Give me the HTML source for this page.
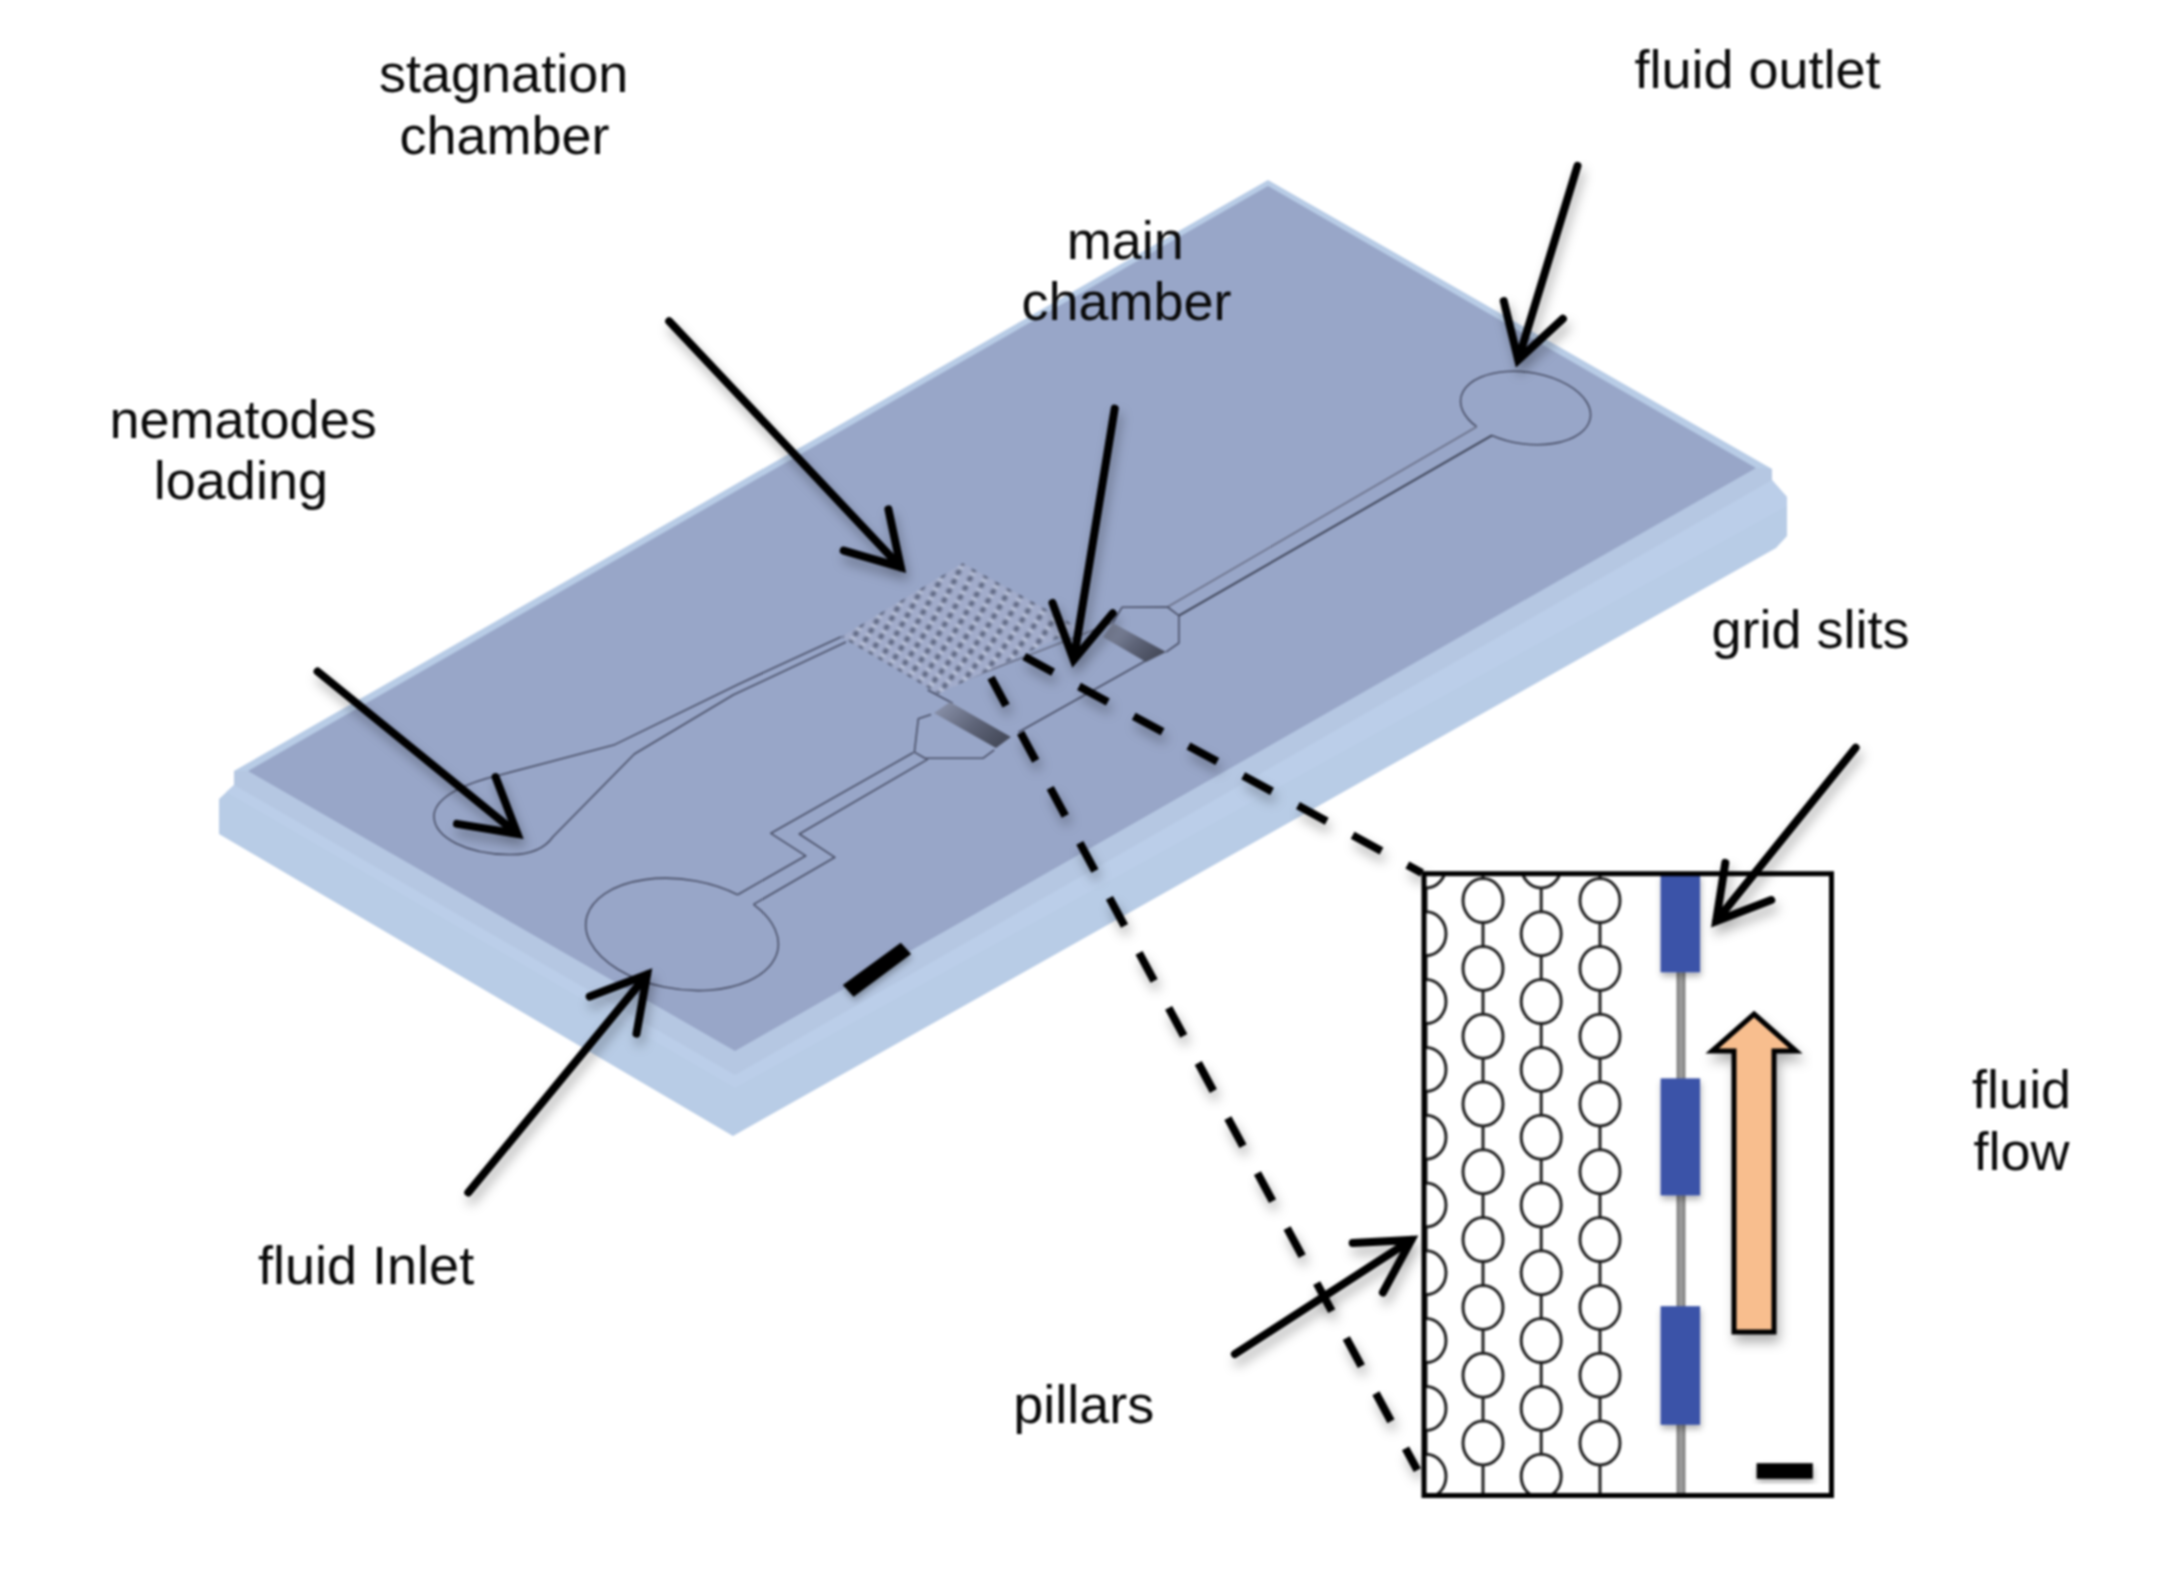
<!DOCTYPE html>
<html><head><meta charset="utf-8">
<style>
html,body{margin:0;padding:0;background:#fff;}
body{width:2164px;height:1581px;overflow:hidden;}
svg{display:block;filter:blur(0.8px);}
text{font-family:"Liberation Sans",sans-serif;font-size:54px;fill:#0a0a0a;}
</style></head><body>
<svg width="2164" height="1581" viewBox="0 0 2164 1581">
<defs>
<filter id="sh" x="-20%" y="-20%" width="140%" height="140%">
<feDropShadow dx="3" dy="8" stdDeviation="6" flood-color="#000" flood-opacity="0.3"/>
</filter>
<filter id="sh2" x="-30%" y="-30%" width="160%" height="160%"><feDropShadow dx="1" dy="4" stdDeviation="3" flood-color="#000" flood-opacity="0.3"/></filter>
<filter id="blur1" x="-5%" y="-5%" width="110%" height="110%"><feGaussianBlur stdDeviation="0.9"/></filter>
</defs>
<rect width="2164" height="1581" fill="#fff"/>
<!-- slab -->
<polygon points="1268,180 1772,469 1772,480 1787,497 1787,536 1776,548 733,1136 219,834 219,799 234,785 234,771" fill="#B8CCE6"/>
<polygon points="234,771 234,785 735,1075 1772,480 1772,469 1756,468 735,1051 248,771" fill="#B5C7E2"/>
<polygon points="234,785 735,1075 1772,480 1787,497 1787,506 735,1088 226,792" fill="#BCCFEA" opacity="0.7"/>
<polygon points="1268,186 1756,468 735,1051 248,771" fill="#98A6C8"/>




<!-- chip pattern -->
<defs>
<linearGradient id="bandg" x1="0" y1="0" x2="1" y2="0.6">
<stop offset="0" stop-color="#8f97b0"/><stop offset="0.6" stop-color="#5e6478"/><stop offset="1" stop-color="#474c5c"/>
</linearGradient>
<clipPath id="gridclip"><polygon points="962.8,562.9 1080,628 938,694 840.8,636.9"/></clipPath>
</defs>
<g fill="none" stroke="#4a5068" stroke-width="1.6" stroke-linejoin="round">
<path d="M1476.7,426.7 A65.5,35.8 8.5 1 1 1492,435.4"/>
<path d="M1476.7,426.7 L1167.5,607" stroke="#6a7088"/>
<path d="M1492,435.4 L1178.9,615.7" stroke="#3e4458" stroke-width="2"/>
<path d="M1112.9,622.5 L1122,607.3 L1167.5,607 L1178.9,615.7 L1178.9,643 L1166,652.1"/>
<path d="M934,692 L1112.9,622.5" stroke="#6a7088"/>
<path d="M1018.3,732.3 L1156,655"/>
<path d="M927.7,690 L952.7,703.3"/>
<path d="M931.1,714.4 L918.3,718.8 L914.4,752.1 L925,758.2 L983.2,758.2 L994.3,749.9"/>
<path d="M913.5,752.5 L770.9,833.3 L805.8,855.8 L737.6,894.7"/>
<path d="M928,759.1 L799.3,834 L834.9,857.3 L753.5,904.4"/>
<path d="M753.5,904.4 A97,55 8.4 1 1 737.6,894.7"/>
<path d="M840.8,636.9 L738,684.4 L613.7,745.1 L500,775 C470,782 436,795 434,815 C433,838 468,854 508.7,854.5 C530,855 545,848 553,836.7 L634.4,754 L733.5,694.8 L846,642" />
</g>
<polygon points="950,702 1010.9,737.1 996,748 934,713" fill="url(#bandg)"/>
<polygon points="1112.9,623 1166,652.1 1146,662 1103,637" fill="url(#bandg)"/>
<g clip-path="url(#gridclip)">
<polygon points="962.8,562.9 1080,628 938,694 840.8,636.9" fill="#a2accb"/>
<g filter="url(#blur1)"><g fill="#c2cbe2"><ellipse cx="960.6" cy="567.6" rx="3.2" ry="2.2" transform="rotate(-35 960.6 567.6)"/><ellipse cx="972.3" cy="574.1" rx="3.2" ry="2.2" transform="rotate(-35 972.3 574.1)"/><ellipse cx="983.9" cy="580.6" rx="3.2" ry="2.2" transform="rotate(-35 983.9 580.6)"/><ellipse cx="995.5" cy="587.0" rx="3.2" ry="2.2" transform="rotate(-35 995.5 587.0)"/><ellipse cx="1007.2" cy="593.5" rx="3.2" ry="2.2" transform="rotate(-35 1007.2 593.5)"/><ellipse cx="1018.8" cy="600.0" rx="3.2" ry="2.2" transform="rotate(-35 1018.8 600.0)"/><ellipse cx="1030.4" cy="606.5" rx="3.2" ry="2.2" transform="rotate(-35 1030.4 606.5)"/><ellipse cx="1042.1" cy="612.9" rx="3.2" ry="2.2" transform="rotate(-35 1042.1 612.9)"/><ellipse cx="1053.7" cy="619.4" rx="3.2" ry="2.2" transform="rotate(-35 1053.7 619.4)"/><ellipse cx="1065.4" cy="625.9" rx="3.2" ry="2.2" transform="rotate(-35 1065.4 625.9)"/><ellipse cx="1077.0" cy="632.4" rx="3.2" ry="2.2" transform="rotate(-35 1077.0 632.4)"/><ellipse cx="956.2" cy="577.0" rx="3.2" ry="2.2" transform="rotate(-35 956.2 577.0)"/><ellipse cx="967.6" cy="583.4" rx="3.2" ry="2.2" transform="rotate(-35 967.6 583.4)"/><ellipse cx="979.1" cy="589.8" rx="3.2" ry="2.2" transform="rotate(-35 979.1 589.8)"/><ellipse cx="990.6" cy="596.2" rx="3.2" ry="2.2" transform="rotate(-35 990.6 596.2)"/><ellipse cx="1002.0" cy="602.6" rx="3.2" ry="2.2" transform="rotate(-35 1002.0 602.6)"/><ellipse cx="1013.5" cy="609.0" rx="3.2" ry="2.2" transform="rotate(-35 1013.5 609.0)"/><ellipse cx="1025.0" cy="615.4" rx="3.2" ry="2.2" transform="rotate(-35 1025.0 615.4)"/><ellipse cx="1036.4" cy="621.8" rx="3.2" ry="2.2" transform="rotate(-35 1036.4 621.8)"/><ellipse cx="1047.9" cy="628.2" rx="3.2" ry="2.2" transform="rotate(-35 1047.9 628.2)"/><ellipse cx="1059.4" cy="634.6" rx="3.2" ry="2.2" transform="rotate(-35 1059.4 634.6)"/><ellipse cx="1070.9" cy="641.1" rx="3.2" ry="2.2" transform="rotate(-35 1070.9 641.1)"/><ellipse cx="940.2" cy="579.9" rx="3.2" ry="2.2" transform="rotate(-35 940.2 579.9)"/><ellipse cx="951.5" cy="586.2" rx="3.2" ry="2.2" transform="rotate(-35 951.5 586.2)"/><ellipse cx="962.8" cy="592.6" rx="3.2" ry="2.2" transform="rotate(-35 962.8 592.6)"/><ellipse cx="974.1" cy="598.9" rx="3.2" ry="2.2" transform="rotate(-35 974.1 598.9)"/><ellipse cx="985.4" cy="605.3" rx="3.2" ry="2.2" transform="rotate(-35 985.4 605.3)"/><ellipse cx="996.7" cy="611.6" rx="3.2" ry="2.2" transform="rotate(-35 996.7 611.6)"/><ellipse cx="1008.0" cy="618.0" rx="3.2" ry="2.2" transform="rotate(-35 1008.0 618.0)"/><ellipse cx="1019.3" cy="624.3" rx="3.2" ry="2.2" transform="rotate(-35 1019.3 624.3)"/><ellipse cx="1030.6" cy="630.6" rx="3.2" ry="2.2" transform="rotate(-35 1030.6 630.6)"/><ellipse cx="1041.9" cy="637.0" rx="3.2" ry="2.2" transform="rotate(-35 1041.9 637.0)"/><ellipse cx="1053.2" cy="643.3" rx="3.2" ry="2.2" transform="rotate(-35 1053.2 643.3)"/><ellipse cx="935.6" cy="589.2" rx="3.2" ry="2.2" transform="rotate(-35 935.6 589.2)"/><ellipse cx="946.7" cy="595.5" rx="3.2" ry="2.2" transform="rotate(-35 946.7 595.5)"/><ellipse cx="957.8" cy="601.7" rx="3.2" ry="2.2" transform="rotate(-35 957.8 601.7)"/><ellipse cx="969.0" cy="608.0" rx="3.2" ry="2.2" transform="rotate(-35 969.0 608.0)"/><ellipse cx="980.1" cy="614.3" rx="3.2" ry="2.2" transform="rotate(-35 980.1 614.3)"/><ellipse cx="991.3" cy="620.6" rx="3.2" ry="2.2" transform="rotate(-35 991.3 620.6)"/><ellipse cx="1002.4" cy="626.9" rx="3.2" ry="2.2" transform="rotate(-35 1002.4 626.9)"/><ellipse cx="1013.5" cy="633.1" rx="3.2" ry="2.2" transform="rotate(-35 1013.5 633.1)"/><ellipse cx="1024.7" cy="639.4" rx="3.2" ry="2.2" transform="rotate(-35 1024.7 639.4)"/><ellipse cx="1035.8" cy="645.7" rx="3.2" ry="2.2" transform="rotate(-35 1035.8 645.7)"/><ellipse cx="1046.9" cy="652.0" rx="3.2" ry="2.2" transform="rotate(-35 1046.9 652.0)"/><ellipse cx="919.8" cy="592.2" rx="3.2" ry="2.2" transform="rotate(-35 919.8 592.2)"/><ellipse cx="930.8" cy="598.4" rx="3.2" ry="2.2" transform="rotate(-35 930.8 598.4)"/><ellipse cx="941.7" cy="604.6" rx="3.2" ry="2.2" transform="rotate(-35 941.7 604.6)"/><ellipse cx="952.7" cy="610.8" rx="3.2" ry="2.2" transform="rotate(-35 952.7 610.8)"/><ellipse cx="963.7" cy="617.0" rx="3.2" ry="2.2" transform="rotate(-35 963.7 617.0)"/><ellipse cx="974.6" cy="623.3" rx="3.2" ry="2.2" transform="rotate(-35 974.6 623.3)"/><ellipse cx="985.6" cy="629.5" rx="3.2" ry="2.2" transform="rotate(-35 985.6 629.5)"/><ellipse cx="996.6" cy="635.7" rx="3.2" ry="2.2" transform="rotate(-35 996.6 635.7)"/><ellipse cx="1007.6" cy="641.9" rx="3.2" ry="2.2" transform="rotate(-35 1007.6 641.9)"/><ellipse cx="1018.5" cy="648.1" rx="3.2" ry="2.2" transform="rotate(-35 1018.5 648.1)"/><ellipse cx="1029.5" cy="654.3" rx="3.2" ry="2.2" transform="rotate(-35 1029.5 654.3)"/><ellipse cx="915.0" cy="601.4" rx="3.2" ry="2.2" transform="rotate(-35 915.0 601.4)"/><ellipse cx="925.8" cy="607.6" rx="3.2" ry="2.2" transform="rotate(-35 925.8 607.6)"/><ellipse cx="936.6" cy="613.7" rx="3.2" ry="2.2" transform="rotate(-35 936.6 613.7)"/><ellipse cx="947.4" cy="619.9" rx="3.2" ry="2.2" transform="rotate(-35 947.4 619.9)"/><ellipse cx="958.2" cy="626.0" rx="3.2" ry="2.2" transform="rotate(-35 958.2 626.0)"/><ellipse cx="969.0" cy="632.1" rx="3.2" ry="2.2" transform="rotate(-35 969.0 632.1)"/><ellipse cx="979.8" cy="638.3" rx="3.2" ry="2.2" transform="rotate(-35 979.8 638.3)"/><ellipse cx="990.6" cy="644.4" rx="3.2" ry="2.2" transform="rotate(-35 990.6 644.4)"/><ellipse cx="1001.4" cy="650.6" rx="3.2" ry="2.2" transform="rotate(-35 1001.4 650.6)"/><ellipse cx="1012.2" cy="656.7" rx="3.2" ry="2.2" transform="rotate(-35 1012.2 656.7)"/><ellipse cx="1023.0" cy="662.9" rx="3.2" ry="2.2" transform="rotate(-35 1023.0 662.9)"/><ellipse cx="899.4" cy="604.5" rx="3.2" ry="2.2" transform="rotate(-35 899.4 604.5)"/><ellipse cx="910.0" cy="610.6" rx="3.2" ry="2.2" transform="rotate(-35 910.0 610.6)"/><ellipse cx="920.6" cy="616.7" rx="3.2" ry="2.2" transform="rotate(-35 920.6 616.7)"/><ellipse cx="931.3" cy="622.7" rx="3.2" ry="2.2" transform="rotate(-35 931.3 622.7)"/><ellipse cx="941.9" cy="628.8" rx="3.2" ry="2.2" transform="rotate(-35 941.9 628.8)"/><ellipse cx="952.6" cy="634.9" rx="3.2" ry="2.2" transform="rotate(-35 952.6 634.9)"/><ellipse cx="963.2" cy="641.0" rx="3.2" ry="2.2" transform="rotate(-35 963.2 641.0)"/><ellipse cx="973.8" cy="647.0" rx="3.2" ry="2.2" transform="rotate(-35 973.8 647.0)"/><ellipse cx="984.5" cy="653.1" rx="3.2" ry="2.2" transform="rotate(-35 984.5 653.1)"/><ellipse cx="995.1" cy="659.2" rx="3.2" ry="2.2" transform="rotate(-35 995.1 659.2)"/><ellipse cx="1005.7" cy="665.3" rx="3.2" ry="2.2" transform="rotate(-35 1005.7 665.3)"/><ellipse cx="894.4" cy="613.7" rx="3.2" ry="2.2" transform="rotate(-35 894.4 613.7)"/><ellipse cx="904.9" cy="619.7" rx="3.2" ry="2.2" transform="rotate(-35 904.9 619.7)"/><ellipse cx="915.3" cy="625.7" rx="3.2" ry="2.2" transform="rotate(-35 915.3 625.7)"/><ellipse cx="925.8" cy="631.7" rx="3.2" ry="2.2" transform="rotate(-35 925.8 631.7)"/><ellipse cx="936.3" cy="637.7" rx="3.2" ry="2.2" transform="rotate(-35 936.3 637.7)"/><ellipse cx="946.8" cy="643.7" rx="3.2" ry="2.2" transform="rotate(-35 946.8 643.7)"/><ellipse cx="957.2" cy="649.7" rx="3.2" ry="2.2" transform="rotate(-35 957.2 649.7)"/><ellipse cx="967.7" cy="655.7" rx="3.2" ry="2.2" transform="rotate(-35 967.7 655.7)"/><ellipse cx="978.2" cy="661.7" rx="3.2" ry="2.2" transform="rotate(-35 978.2 661.7)"/><ellipse cx="988.6" cy="667.7" rx="3.2" ry="2.2" transform="rotate(-35 988.6 667.7)"/><ellipse cx="999.1" cy="673.8" rx="3.2" ry="2.2" transform="rotate(-35 999.1 673.8)"/><ellipse cx="879.0" cy="616.8" rx="3.2" ry="2.2" transform="rotate(-35 879.0 616.8)"/><ellipse cx="889.3" cy="622.7" rx="3.2" ry="2.2" transform="rotate(-35 889.3 622.7)"/><ellipse cx="899.6" cy="628.7" rx="3.2" ry="2.2" transform="rotate(-35 899.6 628.7)"/><ellipse cx="909.9" cy="634.6" rx="3.2" ry="2.2" transform="rotate(-35 909.9 634.6)"/><ellipse cx="920.2" cy="640.6" rx="3.2" ry="2.2" transform="rotate(-35 920.2 640.6)"/><ellipse cx="930.5" cy="646.5" rx="3.2" ry="2.2" transform="rotate(-35 930.5 646.5)"/><ellipse cx="940.8" cy="652.5" rx="3.2" ry="2.2" transform="rotate(-35 940.8 652.5)"/><ellipse cx="951.1" cy="658.4" rx="3.2" ry="2.2" transform="rotate(-35 951.1 658.4)"/><ellipse cx="961.4" cy="664.3" rx="3.2" ry="2.2" transform="rotate(-35 961.4 664.3)"/><ellipse cx="971.7" cy="670.3" rx="3.2" ry="2.2" transform="rotate(-35 971.7 670.3)"/><ellipse cx="982.0" cy="676.2" rx="3.2" ry="2.2" transform="rotate(-35 982.0 676.2)"/><ellipse cx="873.8" cy="625.9" rx="3.2" ry="2.2" transform="rotate(-35 873.8 625.9)"/><ellipse cx="884.0" cy="631.8" rx="3.2" ry="2.2" transform="rotate(-35 884.0 631.8)"/><ellipse cx="894.1" cy="637.6" rx="3.2" ry="2.2" transform="rotate(-35 894.1 637.6)"/><ellipse cx="904.2" cy="643.5" rx="3.2" ry="2.2" transform="rotate(-35 904.2 643.5)"/><ellipse cx="914.4" cy="649.4" rx="3.2" ry="2.2" transform="rotate(-35 914.4 649.4)"/><ellipse cx="924.5" cy="655.3" rx="3.2" ry="2.2" transform="rotate(-35 924.5 655.3)"/><ellipse cx="934.6" cy="661.2" rx="3.2" ry="2.2" transform="rotate(-35 934.6 661.2)"/><ellipse cx="944.8" cy="667.0" rx="3.2" ry="2.2" transform="rotate(-35 944.8 667.0)"/><ellipse cx="954.9" cy="672.9" rx="3.2" ry="2.2" transform="rotate(-35 954.9 672.9)"/><ellipse cx="965.0" cy="678.8" rx="3.2" ry="2.2" transform="rotate(-35 965.0 678.8)"/><ellipse cx="975.2" cy="684.7" rx="3.2" ry="2.2" transform="rotate(-35 975.2 684.7)"/><ellipse cx="858.5" cy="629.1" rx="3.2" ry="2.2" transform="rotate(-35 858.5 629.1)"/><ellipse cx="868.5" cy="634.9" rx="3.2" ry="2.2" transform="rotate(-35 868.5 634.9)"/><ellipse cx="878.5" cy="640.7" rx="3.2" ry="2.2" transform="rotate(-35 878.5 640.7)"/><ellipse cx="888.5" cy="646.5" rx="3.2" ry="2.2" transform="rotate(-35 888.5 646.5)"/><ellipse cx="898.4" cy="652.3" rx="3.2" ry="2.2" transform="rotate(-35 898.4 652.3)"/><ellipse cx="908.4" cy="658.2" rx="3.2" ry="2.2" transform="rotate(-35 908.4 658.2)"/><ellipse cx="918.4" cy="664.0" rx="3.2" ry="2.2" transform="rotate(-35 918.4 664.0)"/><ellipse cx="928.3" cy="669.8" rx="3.2" ry="2.2" transform="rotate(-35 928.3 669.8)"/><ellipse cx="938.3" cy="675.6" rx="3.2" ry="2.2" transform="rotate(-35 938.3 675.6)"/><ellipse cx="948.3" cy="681.4" rx="3.2" ry="2.2" transform="rotate(-35 948.3 681.4)"/><ellipse cx="958.2" cy="687.2" rx="3.2" ry="2.2" transform="rotate(-35 958.2 687.2)"/><ellipse cx="853.2" cy="638.1" rx="3.2" ry="2.2" transform="rotate(-35 853.2 638.1)"/><ellipse cx="863.0" cy="643.9" rx="3.2" ry="2.2" transform="rotate(-35 863.0 643.9)"/><ellipse cx="872.8" cy="649.6" rx="3.2" ry="2.2" transform="rotate(-35 872.8 649.6)"/><ellipse cx="882.6" cy="655.4" rx="3.2" ry="2.2" transform="rotate(-35 882.6 655.4)"/><ellipse cx="892.4" cy="661.1" rx="3.2" ry="2.2" transform="rotate(-35 892.4 661.1)"/><ellipse cx="902.3" cy="666.8" rx="3.2" ry="2.2" transform="rotate(-35 902.3 666.8)"/><ellipse cx="912.1" cy="672.6" rx="3.2" ry="2.2" transform="rotate(-35 912.1 672.6)"/><ellipse cx="921.9" cy="678.3" rx="3.2" ry="2.2" transform="rotate(-35 921.9 678.3)"/><ellipse cx="931.7" cy="684.1" rx="3.2" ry="2.2" transform="rotate(-35 931.7 684.1)"/><ellipse cx="941.5" cy="689.8" rx="3.2" ry="2.2" transform="rotate(-35 941.5 689.8)"/><ellipse cx="951.3" cy="695.6" rx="3.2" ry="2.2" transform="rotate(-35 951.3 695.6)"/><ellipse cx="838.1" cy="641.4" rx="3.2" ry="2.2" transform="rotate(-35 838.1 641.4)"/><ellipse cx="847.8" cy="647.1" rx="3.2" ry="2.2" transform="rotate(-35 847.8 647.1)"/><ellipse cx="857.4" cy="652.8" rx="3.2" ry="2.2" transform="rotate(-35 857.4 652.8)"/><ellipse cx="867.0" cy="658.4" rx="3.2" ry="2.2" transform="rotate(-35 867.0 658.4)"/><ellipse cx="876.7" cy="664.1" rx="3.2" ry="2.2" transform="rotate(-35 876.7 664.1)"/><ellipse cx="886.3" cy="669.8" rx="3.2" ry="2.2" transform="rotate(-35 886.3 669.8)"/><ellipse cx="895.9" cy="675.5" rx="3.2" ry="2.2" transform="rotate(-35 895.9 675.5)"/><ellipse cx="905.6" cy="681.1" rx="3.2" ry="2.2" transform="rotate(-35 905.6 681.1)"/><ellipse cx="915.2" cy="686.8" rx="3.2" ry="2.2" transform="rotate(-35 915.2 686.8)"/><ellipse cx="924.9" cy="692.5" rx="3.2" ry="2.2" transform="rotate(-35 924.9 692.5)"/><ellipse cx="934.5" cy="698.2" rx="3.2" ry="2.2" transform="rotate(-35 934.5 698.2)"/></g><g fill="#5c6580"><ellipse cx="962.8" cy="562.9" rx="2.6" ry="3.6" transform="rotate(30 962.8 562.9)"/><ellipse cx="974.5" cy="569.4" rx="2.6" ry="3.6" transform="rotate(30 974.5 569.4)"/><ellipse cx="986.2" cy="575.9" rx="2.6" ry="3.6" transform="rotate(30 986.2 575.9)"/><ellipse cx="998.0" cy="582.4" rx="2.6" ry="3.6" transform="rotate(30 998.0 582.4)"/><ellipse cx="1009.7" cy="588.9" rx="2.6" ry="3.6" transform="rotate(30 1009.7 588.9)"/><ellipse cx="1021.4" cy="595.5" rx="2.6" ry="3.6" transform="rotate(30 1021.4 595.5)"/><ellipse cx="1033.1" cy="602.0" rx="2.6" ry="3.6" transform="rotate(30 1033.1 602.0)"/><ellipse cx="1044.8" cy="608.5" rx="2.6" ry="3.6" transform="rotate(30 1044.8 608.5)"/><ellipse cx="1056.6" cy="615.0" rx="2.6" ry="3.6" transform="rotate(30 1056.6 615.0)"/><ellipse cx="1068.3" cy="621.5" rx="2.6" ry="3.6" transform="rotate(30 1068.3 621.5)"/><ellipse cx="1080.0" cy="628.0" rx="2.6" ry="3.6" transform="rotate(30 1080.0 628.0)"/><ellipse cx="958.4" cy="572.3" rx="2.6" ry="3.6" transform="rotate(30 958.4 572.3)"/><ellipse cx="970.0" cy="578.7" rx="2.6" ry="3.6" transform="rotate(30 970.0 578.7)"/><ellipse cx="981.5" cy="585.2" rx="2.6" ry="3.6" transform="rotate(30 981.5 585.2)"/><ellipse cx="993.1" cy="591.6" rx="2.6" ry="3.6" transform="rotate(30 993.1 591.6)"/><ellipse cx="1004.6" cy="598.1" rx="2.6" ry="3.6" transform="rotate(30 1004.6 598.1)"/><ellipse cx="1016.2" cy="604.5" rx="2.6" ry="3.6" transform="rotate(30 1016.2 604.5)"/><ellipse cx="1027.7" cy="610.9" rx="2.6" ry="3.6" transform="rotate(30 1027.7 610.9)"/><ellipse cx="1039.3" cy="617.4" rx="2.6" ry="3.6" transform="rotate(30 1039.3 617.4)"/><ellipse cx="1050.8" cy="623.8" rx="2.6" ry="3.6" transform="rotate(30 1050.8 623.8)"/><ellipse cx="1062.4" cy="630.3" rx="2.6" ry="3.6" transform="rotate(30 1062.4 630.3)"/><ellipse cx="1073.9" cy="636.7" rx="2.6" ry="3.6" transform="rotate(30 1073.9 636.7)"/><ellipse cx="942.5" cy="575.2" rx="2.6" ry="3.6" transform="rotate(30 942.5 575.2)"/><ellipse cx="953.9" cy="581.6" rx="2.6" ry="3.6" transform="rotate(30 953.9 581.6)"/><ellipse cx="965.2" cy="588.0" rx="2.6" ry="3.6" transform="rotate(30 965.2 588.0)"/><ellipse cx="976.6" cy="594.4" rx="2.6" ry="3.6" transform="rotate(30 976.6 594.4)"/><ellipse cx="988.0" cy="600.7" rx="2.6" ry="3.6" transform="rotate(30 988.0 600.7)"/><ellipse cx="999.4" cy="607.1" rx="2.6" ry="3.6" transform="rotate(30 999.4 607.1)"/><ellipse cx="1010.8" cy="613.5" rx="2.6" ry="3.6" transform="rotate(30 1010.8 613.5)"/><ellipse cx="1022.2" cy="619.9" rx="2.6" ry="3.6" transform="rotate(30 1022.2 619.9)"/><ellipse cx="1033.6" cy="626.2" rx="2.6" ry="3.6" transform="rotate(30 1033.6 626.2)"/><ellipse cx="1044.9" cy="632.6" rx="2.6" ry="3.6" transform="rotate(30 1044.9 632.6)"/><ellipse cx="1056.3" cy="639.0" rx="2.6" ry="3.6" transform="rotate(30 1056.3 639.0)"/><ellipse cx="937.9" cy="584.6" rx="2.6" ry="3.6" transform="rotate(30 937.9 584.6)"/><ellipse cx="949.1" cy="590.9" rx="2.6" ry="3.6" transform="rotate(30 949.1 590.9)"/><ellipse cx="960.3" cy="597.2" rx="2.6" ry="3.6" transform="rotate(30 960.3 597.2)"/><ellipse cx="971.6" cy="603.5" rx="2.6" ry="3.6" transform="rotate(30 971.6 603.5)"/><ellipse cx="982.8" cy="609.8" rx="2.6" ry="3.6" transform="rotate(30 982.8 609.8)"/><ellipse cx="994.0" cy="616.1" rx="2.6" ry="3.6" transform="rotate(30 994.0 616.1)"/><ellipse cx="1005.2" cy="622.4" rx="2.6" ry="3.6" transform="rotate(30 1005.2 622.4)"/><ellipse cx="1016.4" cy="628.7" rx="2.6" ry="3.6" transform="rotate(30 1016.4 628.7)"/><ellipse cx="1027.7" cy="635.0" rx="2.6" ry="3.6" transform="rotate(30 1027.7 635.0)"/><ellipse cx="1038.9" cy="641.3" rx="2.6" ry="3.6" transform="rotate(30 1038.9 641.3)"/><ellipse cx="1050.1" cy="647.7" rx="2.6" ry="3.6" transform="rotate(30 1050.1 647.7)"/><ellipse cx="922.1" cy="587.6" rx="2.6" ry="3.6" transform="rotate(30 922.1 587.6)"/><ellipse cx="933.2" cy="593.8" rx="2.6" ry="3.6" transform="rotate(30 933.2 593.8)"/><ellipse cx="944.2" cy="600.1" rx="2.6" ry="3.6" transform="rotate(30 944.2 600.1)"/><ellipse cx="955.3" cy="606.3" rx="2.6" ry="3.6" transform="rotate(30 955.3 606.3)"/><ellipse cx="966.3" cy="612.5" rx="2.6" ry="3.6" transform="rotate(30 966.3 612.5)"/><ellipse cx="977.4" cy="618.8" rx="2.6" ry="3.6" transform="rotate(30 977.4 618.8)"/><ellipse cx="988.5" cy="625.0" rx="2.6" ry="3.6" transform="rotate(30 988.5 625.0)"/><ellipse cx="999.5" cy="631.3" rx="2.6" ry="3.6" transform="rotate(30 999.5 631.3)"/><ellipse cx="1010.6" cy="637.5" rx="2.6" ry="3.6" transform="rotate(30 1010.6 637.5)"/><ellipse cx="1021.6" cy="643.8" rx="2.6" ry="3.6" transform="rotate(30 1021.6 643.8)"/><ellipse cx="1032.7" cy="650.0" rx="2.6" ry="3.6" transform="rotate(30 1032.7 650.0)"/><ellipse cx="917.4" cy="596.8" rx="2.6" ry="3.6" transform="rotate(30 917.4 596.8)"/><ellipse cx="928.3" cy="603.0" rx="2.6" ry="3.6" transform="rotate(30 928.3 603.0)"/><ellipse cx="939.2" cy="609.2" rx="2.6" ry="3.6" transform="rotate(30 939.2 609.2)"/><ellipse cx="950.1" cy="615.4" rx="2.6" ry="3.6" transform="rotate(30 950.1 615.4)"/><ellipse cx="961.0" cy="621.5" rx="2.6" ry="3.6" transform="rotate(30 961.0 621.5)"/><ellipse cx="971.8" cy="627.7" rx="2.6" ry="3.6" transform="rotate(30 971.8 627.7)"/><ellipse cx="982.7" cy="633.9" rx="2.6" ry="3.6" transform="rotate(30 982.7 633.9)"/><ellipse cx="993.6" cy="640.1" rx="2.6" ry="3.6" transform="rotate(30 993.6 640.1)"/><ellipse cx="1004.5" cy="646.2" rx="2.6" ry="3.6" transform="rotate(30 1004.5 646.2)"/><ellipse cx="1015.4" cy="652.4" rx="2.6" ry="3.6" transform="rotate(30 1015.4 652.4)"/><ellipse cx="1026.3" cy="658.6" rx="2.6" ry="3.6" transform="rotate(30 1026.3 658.6)"/><ellipse cx="901.8" cy="599.9" rx="2.6" ry="3.6" transform="rotate(30 901.8 599.9)"/><ellipse cx="912.5" cy="606.0" rx="2.6" ry="3.6" transform="rotate(30 912.5 606.0)"/><ellipse cx="923.2" cy="612.1" rx="2.6" ry="3.6" transform="rotate(30 923.2 612.1)"/><ellipse cx="934.0" cy="618.2" rx="2.6" ry="3.6" transform="rotate(30 934.0 618.2)"/><ellipse cx="944.7" cy="624.3" rx="2.6" ry="3.6" transform="rotate(30 944.7 624.3)"/><ellipse cx="955.4" cy="630.5" rx="2.6" ry="3.6" transform="rotate(30 955.4 630.5)"/><ellipse cx="966.1" cy="636.6" rx="2.6" ry="3.6" transform="rotate(30 966.1 636.6)"/><ellipse cx="976.8" cy="642.7" rx="2.6" ry="3.6" transform="rotate(30 976.8 642.7)"/><ellipse cx="987.6" cy="648.8" rx="2.6" ry="3.6" transform="rotate(30 987.6 648.8)"/><ellipse cx="998.3" cy="654.9" rx="2.6" ry="3.6" transform="rotate(30 998.3 654.9)"/><ellipse cx="1009.0" cy="661.0" rx="2.6" ry="3.6" transform="rotate(30 1009.0 661.0)"/><ellipse cx="896.9" cy="609.1" rx="2.6" ry="3.6" transform="rotate(30 896.9 609.1)"/><ellipse cx="907.5" cy="615.1" rx="2.6" ry="3.6" transform="rotate(30 907.5 615.1)"/><ellipse cx="918.0" cy="621.2" rx="2.6" ry="3.6" transform="rotate(30 918.0 621.2)"/><ellipse cx="928.6" cy="627.2" rx="2.6" ry="3.6" transform="rotate(30 928.6 627.2)"/><ellipse cx="939.1" cy="633.3" rx="2.6" ry="3.6" transform="rotate(30 939.1 633.3)"/><ellipse cx="949.7" cy="639.3" rx="2.6" ry="3.6" transform="rotate(30 949.7 639.3)"/><ellipse cx="960.2" cy="645.3" rx="2.6" ry="3.6" transform="rotate(30 960.2 645.3)"/><ellipse cx="970.8" cy="651.4" rx="2.6" ry="3.6" transform="rotate(30 970.8 651.4)"/><ellipse cx="981.3" cy="657.4" rx="2.6" ry="3.6" transform="rotate(30 981.3 657.4)"/><ellipse cx="991.9" cy="663.5" rx="2.6" ry="3.6" transform="rotate(30 991.9 663.5)"/><ellipse cx="1002.4" cy="669.5" rx="2.6" ry="3.6" transform="rotate(30 1002.4 669.5)"/><ellipse cx="881.5" cy="612.2" rx="2.6" ry="3.6" transform="rotate(30 881.5 612.2)"/><ellipse cx="891.9" cy="618.2" rx="2.6" ry="3.6" transform="rotate(30 891.9 618.2)"/><ellipse cx="902.2" cy="624.2" rx="2.6" ry="3.6" transform="rotate(30 902.2 624.2)"/><ellipse cx="912.6" cy="630.2" rx="2.6" ry="3.6" transform="rotate(30 912.6 630.2)"/><ellipse cx="923.0" cy="636.1" rx="2.6" ry="3.6" transform="rotate(30 923.0 636.1)"/><ellipse cx="933.4" cy="642.1" rx="2.6" ry="3.6" transform="rotate(30 933.4 642.1)"/><ellipse cx="943.8" cy="648.1" rx="2.6" ry="3.6" transform="rotate(30 943.8 648.1)"/><ellipse cx="954.2" cy="654.1" rx="2.6" ry="3.6" transform="rotate(30 954.2 654.1)"/><ellipse cx="964.6" cy="660.0" rx="2.6" ry="3.6" transform="rotate(30 964.6 660.0)"/><ellipse cx="974.9" cy="666.0" rx="2.6" ry="3.6" transform="rotate(30 974.9 666.0)"/><ellipse cx="985.3" cy="672.0" rx="2.6" ry="3.6" transform="rotate(30 985.3 672.0)"/><ellipse cx="876.4" cy="621.4" rx="2.6" ry="3.6" transform="rotate(30 876.4 621.4)"/><ellipse cx="886.6" cy="627.3" rx="2.6" ry="3.6" transform="rotate(30 886.6 627.3)"/><ellipse cx="896.8" cy="633.2" rx="2.6" ry="3.6" transform="rotate(30 896.8 633.2)"/><ellipse cx="907.1" cy="639.1" rx="2.6" ry="3.6" transform="rotate(30 907.1 639.1)"/><ellipse cx="917.3" cy="645.0" rx="2.6" ry="3.6" transform="rotate(30 917.3 645.0)"/><ellipse cx="927.5" cy="650.9" rx="2.6" ry="3.6" transform="rotate(30 927.5 650.9)"/><ellipse cx="937.7" cy="656.8" rx="2.6" ry="3.6" transform="rotate(30 937.7 656.8)"/><ellipse cx="948.0" cy="662.7" rx="2.6" ry="3.6" transform="rotate(30 948.0 662.7)"/><ellipse cx="958.2" cy="668.6" rx="2.6" ry="3.6" transform="rotate(30 958.2 668.6)"/><ellipse cx="968.4" cy="674.5" rx="2.6" ry="3.6" transform="rotate(30 968.4 674.5)"/><ellipse cx="978.6" cy="680.5" rx="2.6" ry="3.6" transform="rotate(30 978.6 680.5)"/><ellipse cx="861.1" cy="624.6" rx="2.6" ry="3.6" transform="rotate(30 861.1 624.6)"/><ellipse cx="871.2" cy="630.4" rx="2.6" ry="3.6" transform="rotate(30 871.2 630.4)"/><ellipse cx="881.2" cy="636.3" rx="2.6" ry="3.6" transform="rotate(30 881.2 636.3)"/><ellipse cx="891.3" cy="642.1" rx="2.6" ry="3.6" transform="rotate(30 891.3 642.1)"/><ellipse cx="901.3" cy="647.9" rx="2.6" ry="3.6" transform="rotate(30 901.3 647.9)"/><ellipse cx="911.4" cy="653.8" rx="2.6" ry="3.6" transform="rotate(30 911.4 653.8)"/><ellipse cx="921.5" cy="659.6" rx="2.6" ry="3.6" transform="rotate(30 921.5 659.6)"/><ellipse cx="931.5" cy="665.5" rx="2.6" ry="3.6" transform="rotate(30 931.5 665.5)"/><ellipse cx="941.6" cy="671.3" rx="2.6" ry="3.6" transform="rotate(30 941.6 671.3)"/><ellipse cx="951.6" cy="677.2" rx="2.6" ry="3.6" transform="rotate(30 951.6 677.2)"/><ellipse cx="961.7" cy="683.0" rx="2.6" ry="3.6" transform="rotate(30 961.7 683.0)"/><ellipse cx="855.9" cy="633.6" rx="2.6" ry="3.6" transform="rotate(30 855.9 633.6)"/><ellipse cx="865.8" cy="639.4" rx="2.6" ry="3.6" transform="rotate(30 865.8 639.4)"/><ellipse cx="875.7" cy="645.2" rx="2.6" ry="3.6" transform="rotate(30 875.7 645.2)"/><ellipse cx="885.6" cy="651.0" rx="2.6" ry="3.6" transform="rotate(30 885.6 651.0)"/><ellipse cx="895.5" cy="656.7" rx="2.6" ry="3.6" transform="rotate(30 895.5 656.7)"/><ellipse cx="905.3" cy="662.5" rx="2.6" ry="3.6" transform="rotate(30 905.3 662.5)"/><ellipse cx="915.2" cy="668.3" rx="2.6" ry="3.6" transform="rotate(30 915.2 668.3)"/><ellipse cx="925.1" cy="674.1" rx="2.6" ry="3.6" transform="rotate(30 925.1 674.1)"/><ellipse cx="935.0" cy="679.8" rx="2.6" ry="3.6" transform="rotate(30 935.0 679.8)"/><ellipse cx="944.9" cy="685.6" rx="2.6" ry="3.6" transform="rotate(30 944.9 685.6)"/><ellipse cx="954.8" cy="691.4" rx="2.6" ry="3.6" transform="rotate(30 954.8 691.4)"/><ellipse cx="840.8" cy="636.9" rx="2.6" ry="3.6" transform="rotate(30 840.8 636.9)"/><ellipse cx="850.5" cy="642.6" rx="2.6" ry="3.6" transform="rotate(30 850.5 642.6)"/><ellipse cx="860.2" cy="648.3" rx="2.6" ry="3.6" transform="rotate(30 860.2 648.3)"/><ellipse cx="870.0" cy="654.0" rx="2.6" ry="3.6" transform="rotate(30 870.0 654.0)"/><ellipse cx="879.7" cy="659.7" rx="2.6" ry="3.6" transform="rotate(30 879.7 659.7)"/><ellipse cx="889.4" cy="665.5" rx="2.6" ry="3.6" transform="rotate(30 889.4 665.5)"/><ellipse cx="899.1" cy="671.2" rx="2.6" ry="3.6" transform="rotate(30 899.1 671.2)"/><ellipse cx="908.8" cy="676.9" rx="2.6" ry="3.6" transform="rotate(30 908.8 676.9)"/><ellipse cx="918.6" cy="682.6" rx="2.6" ry="3.6" transform="rotate(30 918.6 682.6)"/><ellipse cx="928.3" cy="688.3" rx="2.6" ry="3.6" transform="rotate(30 928.3 688.3)"/><ellipse cx="938.0" cy="694.0" rx="2.6" ry="3.6" transform="rotate(30 938.0 694.0)"/></g></g>
</g>
<polygon points="900.8,942.8 911.1,954.1 853.6,996.8 842.8,984.9" fill="#000" filter="url(#sh2)"/>

<!-- dashed lines -->
<g fill="none" stroke="#000" stroke-width="8" filter="url(#sh)">
<path d="M991,677.7 L1417.3,1470.2" stroke-dasharray="31.8 30.7"/>
<path d="M1024.3,656.6 L1422,873" stroke-dasharray="32.8 29.5"/>
</g>

<!-- inset -->
<clipPath id="boxclip"><rect x="1424" y="874" width="407.5" height="621.5"/></clipPath>
<rect x="1424" y="874" width="407.5" height="621.5" fill="#fff"/>
<g clip-path="url(#boxclip)">
<line x1="1426" y1="874" x2="1426" y2="1495" stroke="#222" stroke-width="3"/>
<ellipse cx="1426" cy="798.2" rx="20" ry="22" fill="#fff" stroke="#222" stroke-width="3"/>
<ellipse cx="1426" cy="866.0" rx="20" ry="22" fill="#fff" stroke="#222" stroke-width="3"/>
<ellipse cx="1426" cy="933.8" rx="20" ry="22" fill="#fff" stroke="#222" stroke-width="3"/>
<ellipse cx="1426" cy="1001.6" rx="20" ry="22" fill="#fff" stroke="#222" stroke-width="3"/>
<ellipse cx="1426" cy="1069.4" rx="20" ry="22" fill="#fff" stroke="#222" stroke-width="3"/>
<ellipse cx="1426" cy="1137.2" rx="20" ry="22" fill="#fff" stroke="#222" stroke-width="3"/>
<ellipse cx="1426" cy="1205.0" rx="20" ry="22" fill="#fff" stroke="#222" stroke-width="3"/>
<ellipse cx="1426" cy="1272.8" rx="20" ry="22" fill="#fff" stroke="#222" stroke-width="3"/>
<ellipse cx="1426" cy="1340.6" rx="20" ry="22" fill="#fff" stroke="#222" stroke-width="3"/>
<ellipse cx="1426" cy="1408.4" rx="20" ry="22" fill="#fff" stroke="#222" stroke-width="3"/>
<ellipse cx="1426" cy="1476.2" rx="20" ry="22" fill="#fff" stroke="#222" stroke-width="3"/>
<line x1="1483" y1="874" x2="1483" y2="1495" stroke="#222" stroke-width="3"/>
<ellipse cx="1483" cy="765.0" rx="20" ry="22" fill="#fff" stroke="#222" stroke-width="3"/>
<ellipse cx="1483" cy="832.8" rx="20" ry="22" fill="#fff" stroke="#222" stroke-width="3"/>
<ellipse cx="1483" cy="900.6" rx="20" ry="22" fill="#fff" stroke="#222" stroke-width="3"/>
<ellipse cx="1483" cy="968.4" rx="20" ry="22" fill="#fff" stroke="#222" stroke-width="3"/>
<ellipse cx="1483" cy="1036.2" rx="20" ry="22" fill="#fff" stroke="#222" stroke-width="3"/>
<ellipse cx="1483" cy="1104.0" rx="20" ry="22" fill="#fff" stroke="#222" stroke-width="3"/>
<ellipse cx="1483" cy="1171.8" rx="20" ry="22" fill="#fff" stroke="#222" stroke-width="3"/>
<ellipse cx="1483" cy="1239.6" rx="20" ry="22" fill="#fff" stroke="#222" stroke-width="3"/>
<ellipse cx="1483" cy="1307.4" rx="20" ry="22" fill="#fff" stroke="#222" stroke-width="3"/>
<ellipse cx="1483" cy="1375.2" rx="20" ry="22" fill="#fff" stroke="#222" stroke-width="3"/>
<ellipse cx="1483" cy="1443.0" rx="20" ry="22" fill="#fff" stroke="#222" stroke-width="3"/>

<line x1="1541.2" y1="874" x2="1541.2" y2="1495" stroke="#222" stroke-width="3"/>
<ellipse cx="1541.2" cy="798.2" rx="20" ry="22" fill="#fff" stroke="#222" stroke-width="3"/>
<ellipse cx="1541.2" cy="866.0" rx="20" ry="22" fill="#fff" stroke="#222" stroke-width="3"/>
<ellipse cx="1541.2" cy="933.8" rx="20" ry="22" fill="#fff" stroke="#222" stroke-width="3"/>
<ellipse cx="1541.2" cy="1001.6" rx="20" ry="22" fill="#fff" stroke="#222" stroke-width="3"/>
<ellipse cx="1541.2" cy="1069.4" rx="20" ry="22" fill="#fff" stroke="#222" stroke-width="3"/>
<ellipse cx="1541.2" cy="1137.2" rx="20" ry="22" fill="#fff" stroke="#222" stroke-width="3"/>
<ellipse cx="1541.2" cy="1205.0" rx="20" ry="22" fill="#fff" stroke="#222" stroke-width="3"/>
<ellipse cx="1541.2" cy="1272.8" rx="20" ry="22" fill="#fff" stroke="#222" stroke-width="3"/>
<ellipse cx="1541.2" cy="1340.6" rx="20" ry="22" fill="#fff" stroke="#222" stroke-width="3"/>
<ellipse cx="1541.2" cy="1408.4" rx="20" ry="22" fill="#fff" stroke="#222" stroke-width="3"/>
<ellipse cx="1541.2" cy="1476.2" rx="20" ry="22" fill="#fff" stroke="#222" stroke-width="3"/>
<line x1="1600" y1="874" x2="1600" y2="1495" stroke="#222" stroke-width="3"/>
<ellipse cx="1600" cy="765.0" rx="20" ry="22" fill="#fff" stroke="#222" stroke-width="3"/>
<ellipse cx="1600" cy="832.8" rx="20" ry="22" fill="#fff" stroke="#222" stroke-width="3"/>
<ellipse cx="1600" cy="900.6" rx="20" ry="22" fill="#fff" stroke="#222" stroke-width="3"/>
<ellipse cx="1600" cy="968.4" rx="20" ry="22" fill="#fff" stroke="#222" stroke-width="3"/>
<ellipse cx="1600" cy="1036.2" rx="20" ry="22" fill="#fff" stroke="#222" stroke-width="3"/>
<ellipse cx="1600" cy="1104.0" rx="20" ry="22" fill="#fff" stroke="#222" stroke-width="3"/>
<ellipse cx="1600" cy="1171.8" rx="20" ry="22" fill="#fff" stroke="#222" stroke-width="3"/>
<ellipse cx="1600" cy="1239.6" rx="20" ry="22" fill="#fff" stroke="#222" stroke-width="3"/>
<ellipse cx="1600" cy="1307.4" rx="20" ry="22" fill="#fff" stroke="#222" stroke-width="3"/>
<ellipse cx="1600" cy="1375.2" rx="20" ry="22" fill="#fff" stroke="#222" stroke-width="3"/>
<ellipse cx="1600" cy="1443.0" rx="20" ry="22" fill="#fff" stroke="#222" stroke-width="3"/>

</g>
<!-- gray line -->
<rect x="1676.5" y="874" width="9" height="621" fill="#858585"/>
<rect x="1679" y="874" width="4" height="621" fill="#9a9a9a"/>
<g filter="url(#sh2)">
<rect x="1660.6" y="874" width="39.5" height="98.3" fill="#3A52A8"/>
<rect x="1660.6" y="1078.4" width="39.5" height="117" fill="#3A52A8"/>
<rect x="1660.6" y="1306.2" width="39.5" height="118.6" fill="#3A52A8"/>
</g>
<!-- orange arrow -->
<path d="M1754,1014 L1796,1051 L1774,1051 L1774,1332 L1734,1332 L1734,1051 L1712,1051 Z" fill="#F8BE8E" stroke="#000" stroke-width="5" stroke-linejoin="miter" filter="url(#sh)"/>
<!-- scale bar -->
<rect x="1756.6" y="1463.2" width="56.2" height="15.6" fill="#000" filter="url(#sh2)"/>
<rect x="1424" y="873.7" width="407.5" height="621.8" fill="none" stroke="#000" stroke-width="5"/>

<!-- texts -->
<text x="379" y="92">stagnation</text>
<text x="399.4" y="154.4">chamber</text>
<text x="1634.4" y="88.2">fluid outlet</text>
<text x="1066.7" y="258.5">main</text>
<text x="1021.5" y="319.7">chamber</text>
<text x="109.5" y="437.6">nematodes</text>
<text x="153.8" y="499.2">loading</text>
<text x="1711.5" y="648">grid slits</text>
<text x="1972.1" y="1107.6">fluid</text>
<text x="1973.4" y="1169.5">flow</text>
<text x="258" y="1284.3">fluid Inlet</text>
<text x="1013.3" y="1423.4">pillars</text>

<!-- arrows -->
<g fill="none" stroke="#000" stroke-width="8" stroke-linecap="round" stroke-linejoin="miter" filter="url(#sh)">
<path d="M669.2,321.2 L900.8,567.2 M843.7,550.6 L900.8,567.2 L888.4,509.4"/>
<path d="M1114.7,408.6 L1073.7,659.9 M1052.5,602.9 L1073.7,659.9 L1112.7,613.3"/>
<path d="M1577.5,165.8 L1518.2,359.9 M1503.8,301.1 L1518.2,359.9 L1562.9,318.8"/>
<path d="M317.6,671.5 L517.4,833.8 M457.0,823.9 L517.4,833.8 L495.6,777.1"/>
<path d="M468.3,1192.5 L647.1,974.6 M589.7,996.6 L647.1,974.6 L636.5,1033.6"/>
<path d="M1855.6,747.7 L1716.1,921.3 M1725.3,862.9 L1716.1,921.3 L1771.3,900.1"/>
<path d="M1234.9,1354.0 L1411.4,1239.9 M1352.7,1243.1 L1411.4,1239.9 L1382.9,1292.5"/>
</g>
</svg>
</body></html>
